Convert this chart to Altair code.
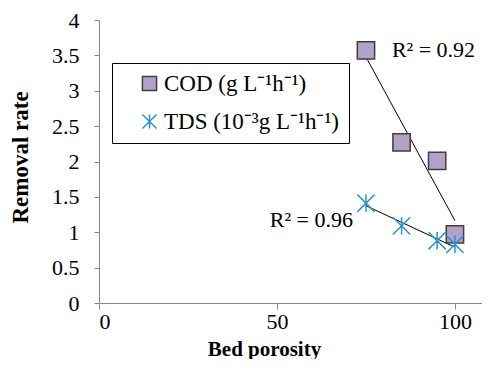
import altair as alt
import pandas as pd

# Data
porosity = [75, 85, 95, 100]
cod_rate = [3.57, 2.27, 2.01, 0.97]
tds_rate = [1.41, 1.09, 0.88, 0.83]
series_names = ["COD (g L\u207b\u00b9h\u207b\u00b9)", "TDS (10\u207b\u00b3g L\u207b\u00b9h\u207b\u00b9)"]

r2_labels = ["R\u00b2 = 0.92", "R\u00b2 = 0.96"]
r2_x = [82.3, 48.0]
r2_y = [3.58, 1.17]

x_ticks = [0, 50, 100]
y_ticks = [0, 0.5, 1, 1.5, 2, 2.5, 3, 3.5, 4]

rows = []
for xv, yv in zip(porosity, cod_rate):
    rows.append({"x": xv, "y": yv, "series": series_names[0]})
for xv, yv in zip(porosity, tds_rate):
    rows.append({"x": xv, "y": yv, "series": series_names[1]})
df = pd.DataFrame(rows)
ann = pd.DataFrame({"x": r2_x, "y": r2_y, "label": r2_labels})

FONT = "Liberation Serif"
STAR = "M-1,-1L1,1M-1,1L1,-1M0,-1L0,1"

xscale = alt.Scale(domain=[0, 107.6], nice=False)
yscale = alt.Scale(domain=[0, 4], nice=False)

xaxis = alt.Axis(
    values=x_ticks, title="Bed porosity", tickSize=6, labelPadding=2, labelOverlap=False,
    titleX=165, titleY=52, titleBaseline="alphabetic", titleAlign="center", titleFontSize=21)
yaxis = alt.Axis(
    values=y_ticks, format="~g", title="Removal rate", tickSize=5, labelPadding=15,
    labelOverlap=False,
    titleX=-79, titleY=137, titleAngle=270, titleAlign="center", titleBaseline="middle")

xenc = alt.X("x:Q", scale=xscale, axis=xaxis)
yenc = alt.Y("y:Q", scale=yscale, axis=yaxis)

legend = alt.Legend(
    title=None, orient="none", legendX=13, legendY=43,
    strokeColor="black", fillColor="white", padding=9,
    rowPadding=14, symbolOffset=17, labelOffset=3, symbolSize=200,
    symbolStrokeWidth=1.5, labelFont=FONT, labelFontSize=23, labelLimit=400,
    labelColor="black")

points = alt.Chart(df).mark_point(size=300, strokeWidth=1.5, opacity=1, fillOpacity=1).encode(
    x=xenc,
    y=yenc,
    shape=alt.Shape("series:N", scale=alt.Scale(domain=series_names, range=["square", STAR]), legend=legend),
    fill=alt.Fill("series:N", scale=alt.Scale(domain=series_names, range=["#b3a2c7", "transparent"]), legend=legend),
    stroke=alt.Stroke("series:N", scale=alt.Scale(domain=series_names, range=["#3f3f3f", "#2e8fd8"]), legend=legend),
)

trend = alt.Chart(df).transform_regression(
    "x", "y", groupby=["series"], extent=[75, 100]
).mark_line(color="black", strokeWidth=1).encode(
    x=xenc,
    y=yenc,
    detail="series:N",
)

texts = alt.Chart(ann).mark_text(align="left", baseline="middle", font=FONT, fontSize=22, color="black").encode(
    x=xenc,
    y=yenc,
    text="label:N",
)

chart = alt.layer(trend, points, texts).properties(
    width=383, height=283,
    autosize=alt.AutoSizeParams(type="none"),
    padding={"left": 91, "top": 12, "right": 0, "bottom": 56},
).configure(font=FONT).configure_view(stroke=None).configure_axis(
    grid=False, domainColor="#868686", tickColor="#868686",
    labelFont=FONT, labelFontSize=22, labelColor="black",
    titleFont=FONT, titleFontSize=23, titleFontWeight="bold", titleColor="black",
).configure_legend(labelFont=FONT).configure_text(font=FONT)

chart.save("out.html", embed_options={"renderer": "svg", "actions": False})
